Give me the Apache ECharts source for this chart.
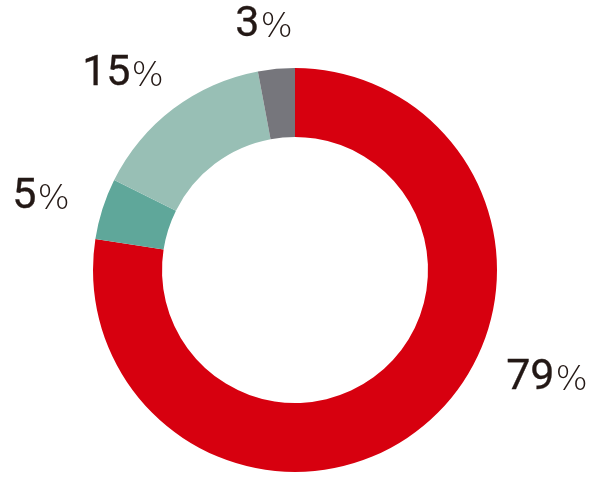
<!DOCTYPE html>
<html><head><meta charset="utf-8">
<script src="https://cdn.jsdelivr.net/npm/echarts@6/dist/echarts.min.js"></script>
<style>html,body{margin:0;padding:0;background:#fff}#c{width:600px;height:487px}</style>
</head><body><div id="c"></div>
<script>
const categories = ['Segment 1', 'Segment 2', 'Segment 3', 'Segment 4'];
const values = [79, 5, 15, 3];
const colors = ['#d7000f', '#5fa79a', '#98bfb5', '#76767c'];
// label centre positions in pixels (layout, not data)
const labelPos = [[547, 378], [41, 197], [123, 74], [264, 25]];

const chart = echarts.init(document.getElementById('c'), null, {renderer: 'canvas'});
chart.setOption({
  animation: false,
  series: [{
    type: 'pie',
    center: [295, 270],
    radius: [133, 202],
    startAngle: 90,
    clockwise: true,
    avoidLabelOverlap: false,
    silent: true,
    emphasis: {disabled: true},
    labelLine: {show: false},
    itemStyle: {borderWidth: 0},
    label: {
      show: true,
      position: 'outside',
      formatter: p => '{n|' + p.value + '}{p|%}',
      rich: {
        n: {fontFamily: 'Roboto', fontSize: 43, fontWeight: 400, color: '#231815', verticalAlign: 'bottom', textBorderColor: '#231815', textBorderWidth: 0.3},
        p: {fontFamily: 'DejaVu Sans', fontSize: 34, fontWeight: 200, color: '#231815', verticalAlign: 'bottom', padding: [0, 0, 1, 1]}
      }
    },
    labelLayout: p => ({x: labelPos[p.dataIndex][0], y: labelPos[p.dataIndex][1], align: 'center', verticalAlign: 'middle'}),
    data: categories.map((c, i) => ({name: c, value: values[i], itemStyle: {color: colors[i]}}))
  }]
});
</script></body></html>
